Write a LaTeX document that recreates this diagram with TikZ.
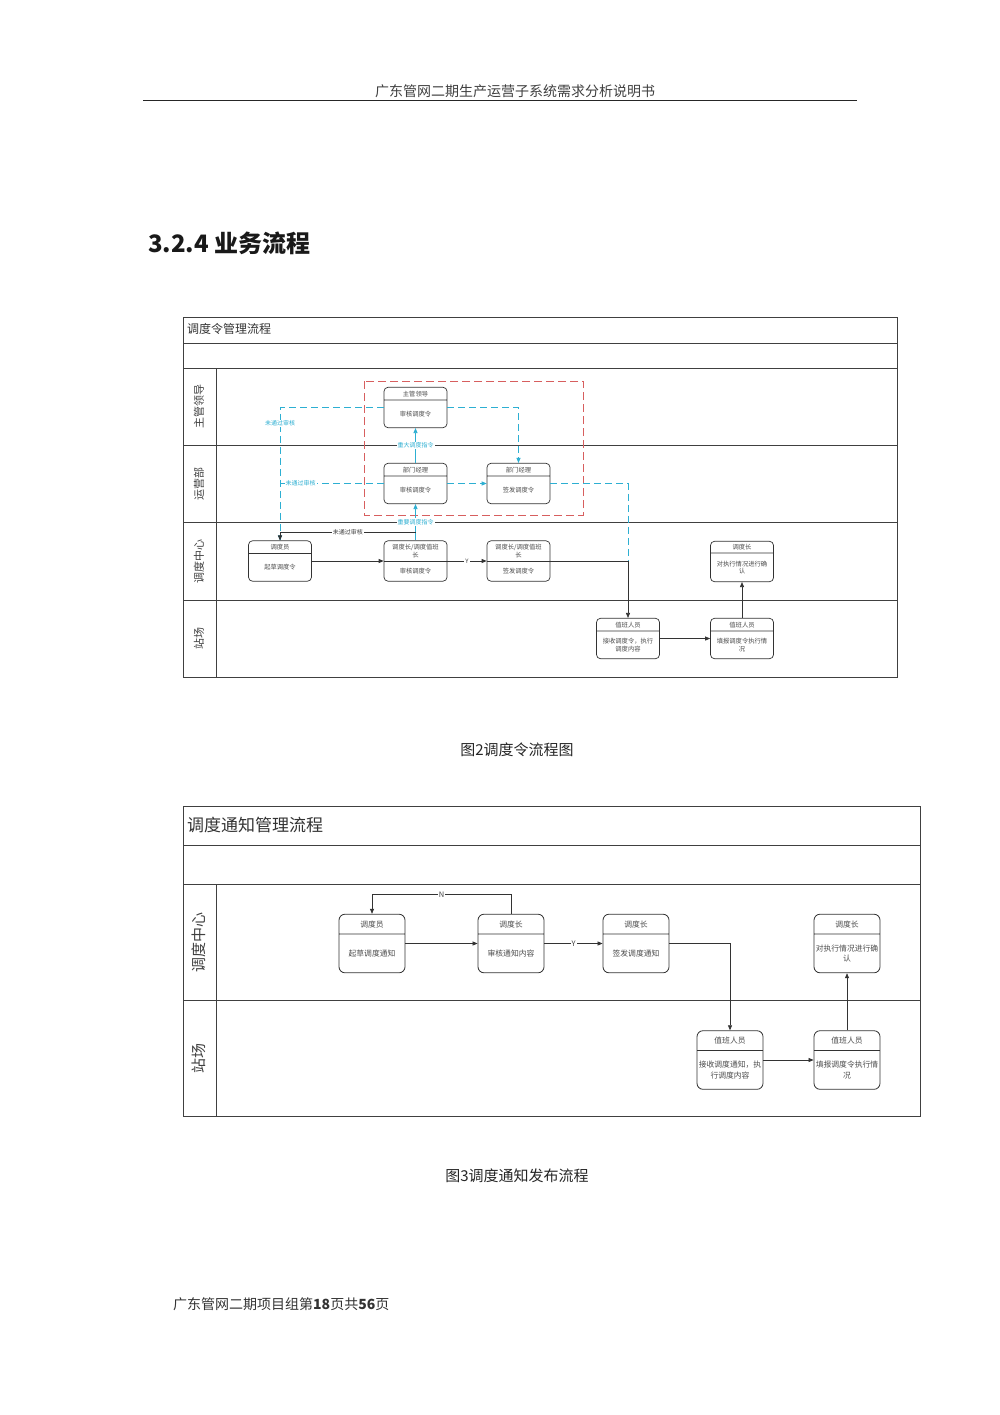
\documentclass[tikz,border=0pt]{standalone}
\usepackage{fontspec}
\setmainfont{Noto Sans CJK SC}
\usetikzlibrary{arrows.meta,positioning,shapes.multipart}
\definecolor{flowblue}{RGB}{45,175,210}
\definecolor{flowred}{RGB}{215,95,95}
\tikzset{
  lane/.style    ={draw, line width=0.9pt, black!75},
  lanelbl/.style ={rotate=90, font=\fontsize{11}{11}\selectfont, text=black!75},
  lanelblB/.style={rotate=90, font=\fontsize{15}{15}\selectfont, text=black!75},
  ttl/.style     ={anchor=west, inner sep=0pt, text=black!80},
  actA/.style    ={draw, rectangle split, rectangle split parts=2,
                   rounded corners=4pt, inner xsep=1.5pt, inner ysep=0pt,
                   line width=0.7pt, black!80, text=black!70,
                   font=\fontsize{6.3}{7.5}\selectfont},
  actB/.style    ={draw, rectangle split, rectangle split parts=2,
                   rounded corners=6pt, inner xsep=1.5pt, inner ysep=0pt,
                   line width=0.8pt, black!80, text=black!70,
                   font=\fontsize{7.8}{10.5}\selectfont},
  flow/.style    ={-{Triangle[length=5pt,width=4pt]}, line width=0.7pt, black!80},
  bflow/.style   ={-{Triangle[length=5pt,width=4pt]}, line width=0.8pt, flowblue},
  bdash/.style   ={line width=0.8pt, flowblue, dash pattern=on 7pt off 4pt},
  blbl/.style    ={font=\fontsize{6}{6}\selectfont, text=flowblue,
                   fill=white, inner sep=1pt},
  elbl/.style    ={font=\fontsize{6}{6}\selectfont, text=black!75,
                   fill=white, inner sep=1pt},
  elblB/.style   ={font=\fontsize{7.5}{7.5}\selectfont, text=black!75,
                   fill=white, inner sep=1pt},
  redbox/.style  ={draw=flowred, line width=0.9pt, dash pattern=on 8pt off 4pt},
  capt/.style    ={font=\fontsize{15}{15}\selectfont, text=black!85},
}

\begin{document}
\begin{tikzpicture}[x=1pt, y=-1pt]
  \fill[white] (0,0) rectangle (1000,1415);
  \useasboundingbox (0,0) rectangle (1000,1415);

  % page header and heading
  \node[font=\fontsize{14}{14}\selectfont, text=black!75] (head) at (515,91)
    {广东管网二期生产运营子系统需求分析说明书};
  \draw[line width=1.6pt, black!85] (143,100.5) -- (857,100.5);
  \node[ttl, font=\fontsize{24}{24}\bfseries\selectfont, text=black!90] (sec) at (148,243)
    {3.2.4 业务流程};

  % ---- figure 2: dispatch order
  \draw[lane] (183,317) rectangle (897,677);
  \foreach \y in {343,368,445,522,600}
    \draw[lane] (183,\y) -- (897,\y);
  \draw[lane] (216,368) -- (216,677);
  \node[ttl, font=\fontsize{12}{12}\selectfont] (t1) at (187,329) {调度令管理流程};
  \node[lanelbl] (l1) at (199,406) {主管领导};
  \node[lanelbl] (l2) at (199,484) {运营部};
  \node[lanelbl] (l3) at (199,561) {调度中心};
  \node[lanelbl] (l4) at (199,638) {站场};

  \draw[redbox] (364,381) rectangle (583,515);

  \node[actA] (ldr) at (415.5,407.5)
    {\parbox[c][12pt][c]{60pt}{\centering 主管领导}\nodepart{two}\parbox[c][27pt][c]{60pt}{\centering 审核调度令}};
  \node[actA] (dmA) at (415.5,483.5)
    {\parbox[c][12pt][c]{60pt}{\centering 部门经理}\nodepart{two}\parbox[c][27pt][c]{60pt}{\centering 审核调度令}};
  \node[actA] (dmB) at (518.5,483.5)
    {\parbox[c][12pt][c]{60pt}{\centering 部门经理}\nodepart{two}\parbox[c][27pt][c]{60pt}{\centering 签发调度令}};
  \node[actA] (clk) at (280,561)
    {\parbox[c][12pt][c]{60pt}{\centering 调度员}\nodepart{two}\parbox[c][27pt][c]{60pt}{\centering 起草调度令}};
  \node[actA] (chA) at (415.5,561)
    {\parbox[c][20pt][c]{60pt}{\centering 调度长/调度值班\\长}\nodepart{two}\parbox[c][19pt][c]{60pt}{\centering 审核调度令}};
  \node[actA] (chB) at (518.5,561)
    {\parbox[c][20pt][c]{60pt}{\centering 调度长/调度值班\\长}\nodepart{two}\parbox[c][19pt][c]{60pt}{\centering 签发调度令}};
  \node[actA] (cfm) at (742,561.5)
    {\parbox[c][11pt][c]{60pt}{\centering 调度长}\nodepart{two}\parbox[c][28pt][c]{60pt}{\centering 对执行情况进行确\\认}};
  \node[actA] (duA) at (628,638.5)
    {\parbox[c][12pt][c]{60pt}{\centering 值班人员}\nodepart{two}\parbox[c][27pt][c]{60pt}{\centering 接收调度令，执行\\调度内容}};
  \node[actA] (duB) at (742,638.5)
    {\parbox[c][12pt][c]{60pt}{\centering 值班人员}\nodepart{two}\parbox[c][27pt][c]{60pt}{\centering 填报调度令执行情\\况}};

  \coordinate (jA) at (280,483.5);
  \coordinate (jB) at (628,561);
  \coordinate (jC) at (415.5,532);

  \draw[bdash] (ldr.west) -| node[blbl, pos=0.56] {未通过审核} (clk.north);
  \draw[bflow] (clk.north) ++(0,-6) -- (clk.north);
  \draw[bdash] (dmA.west) -- node[blbl, pos=0.8] {未通过审核} (jA);
  \draw[bdash, -{Triangle[length=5pt,width=4pt]}] (ldr.east) -| (dmB.north);
  \draw[bdash, -{Triangle[length=5pt,width=4pt]}] (dmA) -- (dmB);
  \draw[bdash] (dmB.east) -| (jB);
  \draw[bflow] (dmA) -- node[blbl] {重大调度指令} (ldr);
  \draw[bflow] (chA) -- node[blbl] {重要调度指令} (dmA);
  \draw[flow] (jC) -| node[elbl, pos=0.25] {未通过审核} (clk.north);
  \draw[flow] (clk) -- (chA);
  \draw[flow] (chA) -- node[elbl] {Y} (chB);
  \draw[flow] (chB.east) -| (duA.north);
  \draw[flow] (duA) -- (duB);
  \draw[flow] (duB) -- (cfm);

  \node[capt] (c2) at (517,750) {图2调度令流程图};

  % ---- figure 3: dispatch notice
  \draw[lane] (183,806) rectangle (920,1116);
  \foreach \y in {845,884,1000}
    \draw[lane] (183,\y) -- (920,\y);
  \draw[lane] (216,884) -- (216,1116);
  \node[ttl, font=\fontsize{17}{17}\selectfont] (t2) at (187,825) {调度通知管理流程};
  \node[lanelblB] (m1) at (199,942) {调度中心};
  \node[lanelblB] (m2) at (199,1058) {站场};

  \node[actB] (drf) at (372,943.5)
    {\parbox[c][19pt][c]{63pt}{\centering 调度员}\nodepart{two}\parbox[c][38pt][c]{63pt}{\centering 起草调度通知}};
  \node[actB] (chk) at (511,943.5)
    {\parbox[c][19pt][c]{63pt}{\centering 调度长}\nodepart{two}\parbox[c][38pt][c]{63pt}{\centering 审核通知内容}};
  \node[actB] (iss) at (636,943.5)
    {\parbox[c][19pt][c]{63pt}{\centering 调度长}\nodepart{two}\parbox[c][38pt][c]{63pt}{\centering 签发调度通知}};
  \node[actB] (ack) at (847,943.5)
    {\parbox[c][19pt][c]{63pt}{\centering 调度长}\nodepart{two}\parbox[c][38pt][c]{63pt}{\centering 对执行情况进行确\\认}};
  \node[actB] (rcv) at (730,1060)
    {\parbox[c][19pt][c]{63pt}{\centering 值班人员}\nodepart{two}\parbox[c][38pt][c]{63pt}{\centering 接收调度通知，执\\行调度内容}};
  \node[actB] (rpt) at (847,1060)
    {\parbox[c][19pt][c]{63pt}{\centering 值班人员}\nodepart{two}\parbox[c][38pt][c]{63pt}{\centering 填报调度令执行情\\况}};

  \draw[flow] (chk.north) -- ++(0,-19) -| node[elblB, pos=0.25] {N} (drf.north);
  \draw[flow] (drf) -- (chk);
  \draw[flow] (chk) -- node[elblB] {Y} (iss);
  \draw[flow] (iss.east) -| (rcv.north);
  \draw[flow] (rcv) -- (rpt);
  \draw[flow] (rpt) -- (ack);

  \node[capt] (c3) at (517,1176) {图3调度通知发布流程};

  % page footer
  \node[ttl, font=\fontsize{14}{14}\selectfont, text=black!80] (foot) at (173,1304)
    {广东管网二期项目组第\textbf{18}页共\textbf{56}页};
\end{tikzpicture}
\end{document}
